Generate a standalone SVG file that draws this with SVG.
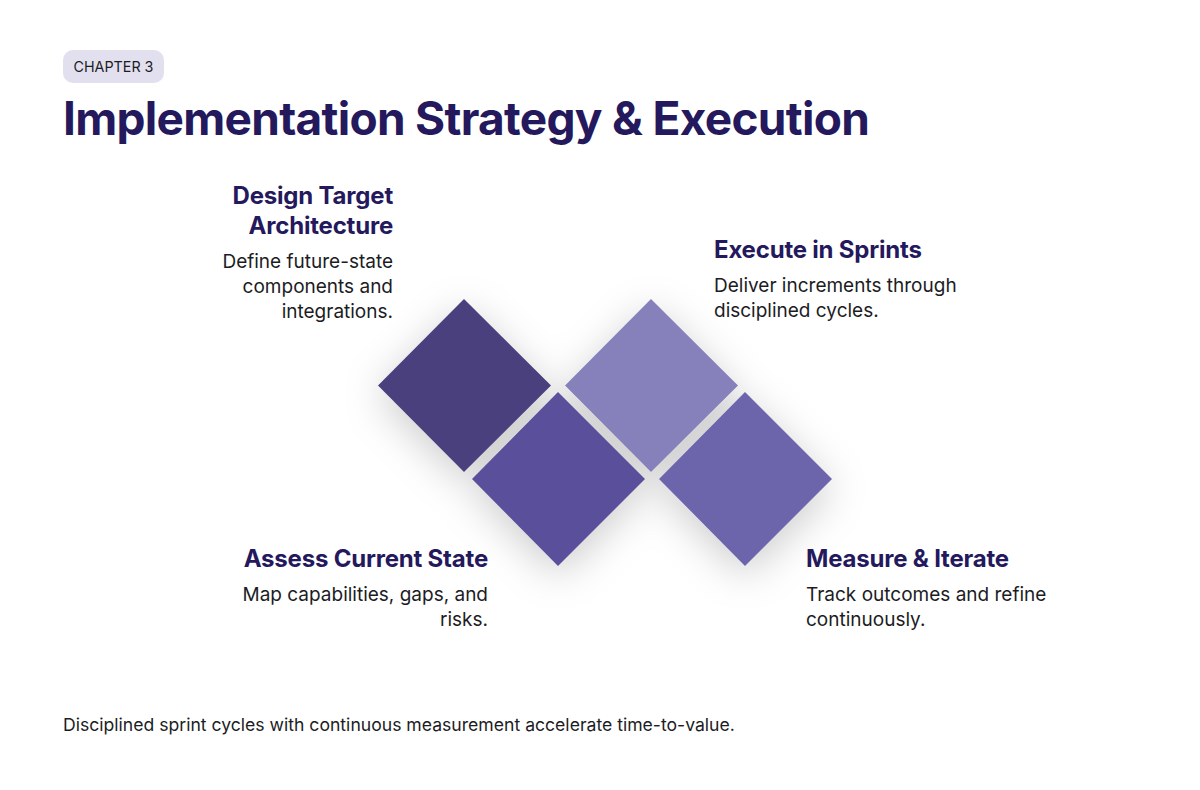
<svg xmlns="http://www.w3.org/2000/svg" width="1200" height="790" viewBox="0 0 1200 790">
<style>
.h{font-family:Inter,"Noto Sans",sans-serif;font-weight:700;font-size:24px;fill:#24195c;letter-spacing:-0.2px}
.d{font-family:Inter,"Noto Sans",sans-serif;font-size:19px;fill:#1c1c24}
.r{text-anchor:end}
</style>
<defs>
<filter id="sh" x="-60%" y="-60%" width="220%" height="220%">
<feDropShadow dx="0" dy="10" stdDeviation="20" flood-color="#000" flood-opacity="0.2"/>
</filter>
</defs>
<rect width="1200" height="790" fill="#ffffff"/>
<g id="chapter">
<rect x="63" y="50" width="101" height="33" rx="10" fill="#e2e0ef"/>
<text x="113.5" y="72" text-anchor="middle" font-family="Inter,'Noto Sans',sans-serif" font-size="14.3" fill="#1c1c24">CHAPTER 3</text>
</g>
<text id="title" x="63" y="135" font-family="Inter,'Noto Sans',sans-serif" font-weight="700" font-size="46" fill="#24195c" letter-spacing="-0.7">Implementation Strategy &amp; Execution</text>
<g id="diamonds" filter="url(#sh)">
<polygon id="d1" points="464,299 551,385.5 464,472 378,385.5" fill="#48407d"/>
<polygon id="d2" points="558,392 645,479 558,566 472,479" fill="#5a509a"/>
<polygon id="d3" points="651,299 738,385.5 651,472 565,385.5" fill="#8680bb"/>
<polygon id="d4" points="745,392 832,479 745,566 659,479" fill="#6c65ac"/>
</g>
<g id="node-design">
<text class="h r" x="393" y="204">Design Target</text>
<text class="h r" x="393" y="234">Architecture</text>
<text class="d r" x="393" y="268">Define future-state</text>
<text class="d r" x="393" y="293">components and</text>
<text class="d r" x="393" y="318">integrations.</text>
</g>
<g id="node-execute">
<text class="h" x="714" y="258">Execute in Sprints</text>
<text class="d" x="714" y="292">Deliver increments through</text>
<text class="d" x="714" y="317">disciplined cycles.</text>
</g>
<g id="node-assess">
<text class="h r" x="488" y="567">Assess Current State</text>
<text class="d r" x="488" y="601">Map capabilities, gaps, and</text>
<text class="d r" x="488" y="626">risks.</text>
</g>
<g id="node-measure">
<text class="h" x="806" y="567">Measure &amp; Iterate</text>
<text class="d" x="806" y="601">Track outcomes and refine</text>
<text class="d" x="806" y="626">continuously.</text>
</g>
<g id="connectors"></g>
<text id="footer" x="63" y="731" font-family="Inter,'Noto Sans',sans-serif" font-size="17.6" fill="#1c1c24">Disciplined sprint cycles with continuous measurement accelerate time-to-value.</text>
</svg>
